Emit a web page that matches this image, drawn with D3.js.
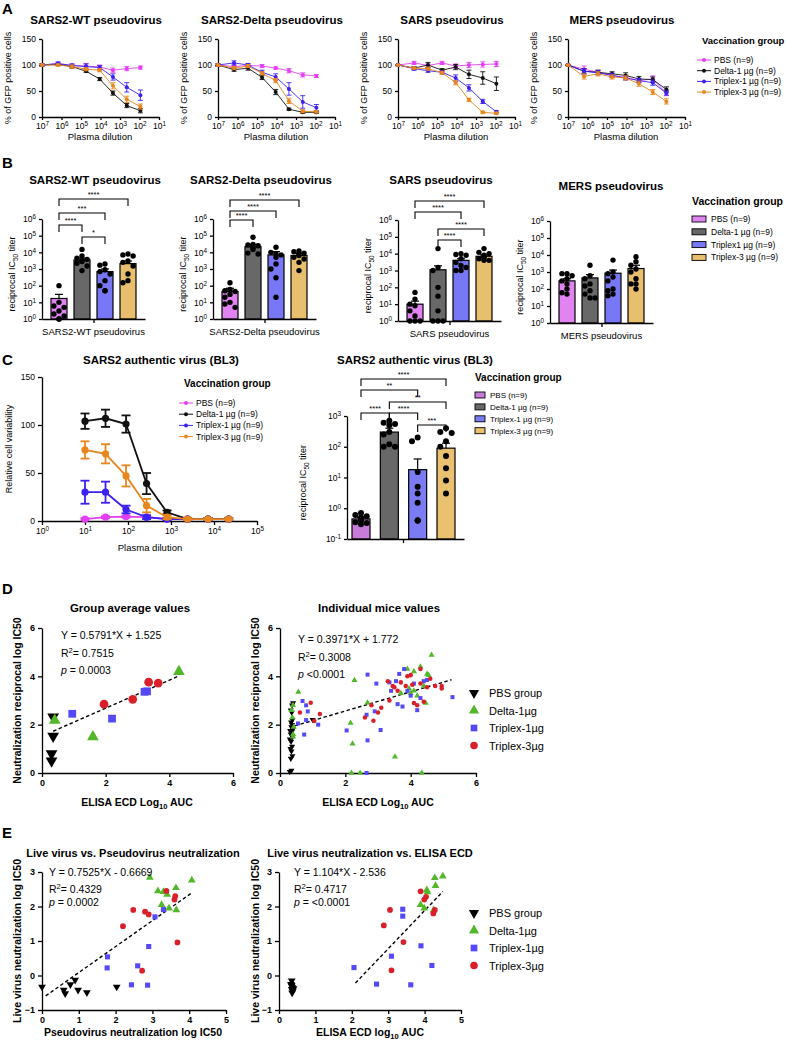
<!DOCTYPE html>
<html>
<head>
<meta charset="utf-8">
<script src="https://cdn.jsdelivr.net/npm/d3@7"></script>
<style>
  body { margin: 0; background: #fff; }
</style>
</head>
<body>
<main></main>
<script>
// ---------- data ----------
var groupsLine = ["PBS (n=9)", "Delta-1 µg (n=9)", "Triplex-1 µg (n=9)", "Triplex-3 µg  (n=9)"];
var groupsBarB = ["PBS (n=9)", "Delta-1 µg (n=9)", "Triplex1 µg (n=9)", "Triplex-3 µg (n=9)"];
var groupsBarC = ["PBS (n=9)", "Delta-1 µg (n=9)", "Triplex-1 µg (n=9)", "Triplex-3 µg (n=9)"];
var groupsScatter = ["PBS group", "Delta-1µg", "Triplex-1µg", "Triplex-3µg"];

var lineColors = ["#e23ff2", "#111111", "#3b22f0", "#e8861e"];
var barColorsB = ["#e283f2", "#686868", "#7878f6", "#e8bf6e"];
var barColorsC = ["#c67cd8", "#686868", "#7b7bf4", "#e9c170"];
var scatterColors = ["#000000", "#52b82a", "#5548f5", "#d9202a"];

// panel A: pseudovirus neutralisation curves
var dilutionA = [1e7, 1.5e6, 2.9e5, 5.5e4, 1.1e4, 2.3e3, 4.5e2, 9e1];
var decadeTicksA = [1e7, 1e6, 1e5, 1e4, 1e3, 1e2, 1e1];
var pctTicks = [0, 50, 100, 150];

var wtMean = [[100, 102, 99, 98, 96, 90, 93, 95], [100, 101, 97, 88, 73, 46, 22, 12],
              [100, 103, 99, 97, 95, 77, 57, 42], [100, 100, 97, 92, 90, 60, 34, 20]];
var wtErr = [[2, 3, 3, 5, 4, 4, 4, 3], [2, 2, 3, 2, 3, 4, 4, 4],
             [2, 3, 3, 5, 4, 6, 9, 10], [2, 2, 3, 3, 3, 6, 6, 5]];
var deltaMean = [[100, 97, 99, 98, 94, 89, 81, 79], [100, 91, 94, 76, 48, 15, 9, 9],
                 [100, 104, 100, 86, 77, 54, 29, 18], [100, 94, 98, 84, 70, 31, 11, 10]];
var deltaErr = [[2, 3, 3, 3, 2, 4, 4, 3], [2, 3, 4, 4, 5, 2, 2, 2],
                [2, 4, 3, 4, 6, 12, 12, 6], [2, 3, 3, 3, 4, 5, 3, 2]];
var sarsMean = [[100, 104, 99, 104, 98, 100, 101, 102], [100, 94, 100, 90, 96, 82, 75, 64],
                [100, 93, 89, 86, 75, 56, 30, 10], [100, 94, 93, 85, 66, 33, 9, 7]];
var sarsErr = [[1, 3, 3, 3, 4, 5, 5, 5], [1, 3, 5, 3, 5, 8, 12, 13],
               [1, 3, 3, 3, 6, 6, 4, 2], [1, 2, 3, 3, 4, 3, 2, 2]];
var mersMean = [[100, 92, 86, 80, 76, 70, 73, 46], [100, 88, 86, 83, 80, 73, 72, 53],
                [100, 88, 85, 80, 75, 70, 66, 46], [100, 78, 83, 77, 75, 64, 48, 30]];
var mersErr = [[1, 6, 4, 4, 4, 4, 6, 5], [1, 5, 4, 4, 5, 5, 5, 5],
               [1, 5, 4, 4, 4, 4, 5, 4], [1, 5, 4, 4, 4, 5, 5, 5]];

// panel B: reciprocal IC50 titers
var logTicksB = [1, 10, 100, 1e3, 1e4, 1e5, 1e6];
var wtIC = [17, 3500, 700, 2100];
var wtICTop = [30, 4500, 1000, 3000];
var wtPts = [[100, 10, 6, 5, 3, 2, 1, 1, 1.5], [15000, 6000, 4500, 3800, 3200, 2800, 2200, 1500, 800],
             [2000, 1700, 900, 700, 500, 200, 100, 50, 50], [8000, 7000, 6000, 3000, 2500, 1500, 500, 200, 150]];
var wtSig = [[0, 3, "****"], [0, 2, "***"], [0, 1, "****"], [1, 2, "*"]];

var deltaIC = [45, 22000, 7000, 6500];
var deltaICTop = [70, 30000, 11000, 8500];
var deltaPts = [[150, 60, 50, 45, 30, 20, 10, 8, 5], [80000, 30000, 28000, 25000, 22000, 18000, 15000, 9000, 8000],
                [20000, 10000, 8000, 7000, 5000, 2000, 1000, 300, 20], [12000, 11000, 9000, 8000, 6500, 5000, 4000, 2500, 800]];
var deltaSig = [[0, 3, "****"], [0, 2, "****"], [0, 1, "****"]];

var sarsIC = [10, 1100, 4000, 7000];
var sarsICTop = [15, 1900, 5000, 8500];
var sarsPts = [[50, 20, 10, 8, 4, 2, 1, 1, 1], [20000, 1500, 1000, 100, 30, 4, 1, 1, 1],
               [10000, 9000, 8000, 5000, 3000, 2000, 1500, 1000, 1000], [20000, 12000, 10000, 8000, 6000, 6000, 5000, 4000, 4000]];
var sarsSig = [[0, 3, "****"], [0, 2, "****"], [1, 3, "****"], [1, 2, "****"]];

var mersIC = [300, 450, 850, 1600];
var mersICTop = [400, 700, 1300, 2500];
var mersPts = [[800, 800, 600, 400, 300, 200, 100, 60, 50], [2500, 600, 400, 200, 150, 80, 50, 30, 30],
               [5000, 1000, 800, 500, 300, 100, 80, 50, 40], [8000, 4000, 2500, 1500, 1000, 400, 200, 100, 200]];
var mersSig = [];

// panel C: authentic virus
var dilutionC = [10, 30, 90, 270, 810, 2430, 7290, 21870];
var decadeTicksC = [1, 10, 100, 1e3, 1e4, 1e5];
var liveMean = [[2, 4, 4.5, 4, 2, 2, 2, 2], [104, 107, 101, 39, 9, 2, 2, 2],
                [30, 30, 12, 4, 2, 2, 2, 2], [74, 70, 47, 16, 4, 2, 2, 2]];
var liveErr = [[1, 1, 1, 1, 1, 1, 1, 1], [8, 9, 9, 11, 2, 1, 1, 1],
               [12, 11, 4, 2, 1, 1, 1, 1], [9, 10, 11, 7, 2, 1, 1, 1]];
var logTicksC = [0.1, 1, 10, 100, 1000];
var liveIC = [0.45, 300, 18, 90];
var liveICTop = [0.5, 400, 40, 130];
var livePts = [[0.7, 0.6, 0.55, 0.5, 0.45, 0.4, 0.35, 0.33, 0.3], [700, 600, 550, 500, 300, 250, 120, 100, 100],
               [200, 150, 15, 5, 3, 1.5, 0.4, 0.4, 0.4], [400, 300, 280, 150, 100, 50, 20, 8, 3]];
var liveSig = [[0, 3, "****"], [0, 2, "**"], [1, 3, "**"], [0, 1, "****"], [1, 2, "****"], [2, 3, "***"]];

// panel D: correlations with ELISA
var dAvg = [
  [[0.3, 0.5], [0.3, 0.8], [0.35, 1.52], [0.35, 2.32]],
  [[0.4, 2.18], [1.6, 1.5], [4.3, 4.2]],
  [[0.95, 2.45], [2.2, 2.25], [3.22, 3.36], [3.3, 3.38]],
  [[1.95, 2.85], [2.85, 3.05], [3.35, 3.76], [3.65, 3.72]]
];
var dInd = [
  [[0.3, 0.05], [0.35, 0.1], [0.33, 0.6], [0.38, 0.7], [0.35, 0.9], [0.32, 1.0], [0.37, 1.1], [0.34, 1.3], [0.3, 1.4],
   [0.38, 1.5], [0.33, 1.6], [0.36, 1.7], [0.31, 1.75], [0.39, 1.8], [0.35, 1.9], [0.37, 2.0], [0.34, 2.1], [0.38, 2.2],
   [0.36, 2.5], [0.33, 2.6], [0.37, 2.8], [0.4, 2.9], [1.0, 2.2]],
  [[0.35, 2.6], [0.4, 1.5], [0.42, 1.9], [0.38, 2.3], [0.56, 3.35], [0.4, 2.8], [0.4, 1.6], [2.19, 0], [2.45, 0],
   [2.16, 2.07], [2.22, 1.21], [2.28, 3.84], [2.68, 2.91], [3.52, 0.67], [4.34, 0], [3.9, 4.3], [4.1, 4.2], [4.3, 4.4],
   [4.64, 4.88], [4.1, 3.4], [4.2, 3.2], [4.4, 3.6], [3.95, 3.5], [4.5, 4.1], [4.46, 2.9], [4.0, 3.3], [4.55, 4.05], [3.7, 3.3]],
  [[0.69, 2.98], [0.8, 2.8], [0.85, 2.55], [0.8, 2.19], [0.55, 2.05], [0.74, 1.59], [1.17, 2.0], [2.68, 4.07], [2.95, 3.7],
   [2.04, 1.76], [2.65, 2.41], [2.68, 1.35], [2.9, 2.55], [3.08, 1.78], [2.65, 0], [3.35, 3.75], [3.4, 3.4], [3.55, 3.8],
   [3.6, 2.85], [3.75, 2.75], [3.8, 4.3], [3.9, 3.4], [4.1, 3.7], [4.2, 2.6], [4.3, 3.1], [4.4, 3.8], [5.28, 3.14],
   [3.65, 4.1], [4.0, 3.2], [4.5, 3.85]],
  [[0.61, 2.5], [0.94, 2.91], [1.05, 2.15], [1.22, 2.44], [2.6, 2.3], [2.86, 2.16], [3.0, 2.5], [3.1, 2.7], [2.8, 2.8],
   [3.3, 3.8], [3.45, 3.6], [3.5, 3.55], [3.6, 3.4], [3.7, 3.75], [3.85, 3.6], [3.9, 4.0], [4.0, 4.05], [4.1, 2.9],
   [4.2, 2.8], [4.3, 3.7], [4.5, 3.55], [4.6, 3.9], [4.75, 3.6], [4.95, 3.5], [4.3, 4.3], [4.05, 3.65], [3.35, 3.0],
   [4.4, 2.95], [4.95, 3.6]]
];

// panel E: live virus correlations
var eLivePseudo = [
  [[0, -0.33], [0.59, -0.42], [0.63, -0.52], [0.77, -0.26], [0.9, -0.13], [0.98, -0.42], [1.22, -0.49], [2.03, -0.33]],
  [[2.93, 2.84], [3.15, 2.45], [3.3, 2.43], [3.4, 2.35], [3.25, 2.05], [3.45, 1.95], [3.65, 1.9], [3.64, 2.54], [4.07, 2.76]],
  [[1.78, 0.54], [1.77, 0.22], [2.6, 0.28], [2.43, -0.27], [2.87, -0.28], [2.9, 0.84], [3.07, 1.7], [3.3, 1.91]],
  [[2.2, 1.43], [2.48, 1.9], [2.8, 1.85], [2.9, 1.77], [2.72, 0.14], [3.68, 0.96], [3.38, 2.45], [3.6, 2.2], [3.62, 2.3]]
];
var eLiveElisa = [
  [[0.35, -0.15], [0.33, -0.25], [0.35, -0.3], [0.37, -0.35], [0.35, -0.4], [0.38, -0.45], [0.36, -0.5], [0.34, -0.28], [0.4, -0.38]],
  [[4.28, 2.83], [4.5, 2.88], [4.3, 2.6], [4.06, 2.48], [4.08, 2.42], [3.89, 2.05], [3.99, 1.95], [4.25, 1.9]],
  [[2.06, 0.23], [2.68, -0.25], [3.09, 0.56], [3.4, 1.92], [3.4, 1.72], [3.9, 0.86], [4.2, 0.29], [3.62, -0.27]],
  [[2.88, 1.45], [3.05, 1.9], [3.42, 0.97], [3.09, 0.15], [3.89, 2.44], [3.99, 2.2], [4.04, 2.28], [4.24, 1.8], [4.28, 1.9]]
];

// ---------- drawing ----------
var F = '"Liberation Sans", Arial, Helvetica, sans-serif';
var svg = d3.select("main").append("svg").attr("width", 786).attr("height", 1042);

function label(g, x, y, fs, parts, o) {
  o = o || {};
  var t = g.append("text").attr("x", x).attr("y", y).attr("font-size", fs)
    .attr("font-family", F).attr("fill", "#000")
    .attr("text-anchor", o.anchor || "start")
    .attr("font-weight", o.bold ? "bold" : "normal");
  if (o.rot) t.attr("transform", "rotate(-90," + x + "," + y + ")");
  if (typeof parts === "string") parts = [[parts]];
  var shift = 0;
  parts.forEach(function(p) {
    var want = p[1] === "sup" ? -0.4 : p[1] === "sub" ? 0.3 : 0;
    var ts = t.append("tspan").text(p[0]);
    if (want !== shift) ts.attr("dy", ((want - shift) * fs) + "px");
    if (p[1] === "sup" || p[1] === "sub") ts.attr("font-size", fs * 0.72);
    if (p[1] === "it") ts.attr("font-style", "italic");
    shift = want;
  });
  return t;
}

function drawAxis(g, axis, tx, ty, fs, bold) {
  var a = g.append("g").attr("transform", "translate(" + tx + "," + ty + ")").call(axis);
  a.attr("font-family", F).attr("font-size", fs).attr("font-weight", bold ? "bold" : null);
  a.select(".domain").attr("stroke", "#000").attr("stroke-width", 1.3);
  a.selectAll(".tick line").attr("stroke", "#000").attr("stroke-width", 1.3);
  a.selectAll(".tick text").attr("fill", "#000");
  return a;
}

function supAxis(a) {
  a.selectAll(".tick text").each(function(d) {
    var t = d3.select(this), e = Math.round(Math.log10(d));
    t.text("10");
    t.append("tspan").attr("dy", "-0.45em").attr("font-size", "0.75em").text(e);
  });
}

function panelLetter(x, y, s) { label(svg, x, y, 15, s, { bold: true }); }

// ----- line chart with error bars -----
function curves(g, x, y, xs, vals, errs, lw, r, cap) {
  vals.forEach(function(v, i) {
    var c = lineColors[i];
    var pts = v.map(function(d, j) { return [x(xs[j]), y(d), y(d + errs[i][j]), y(Math.max(0, d - errs[i][j]))]; });
    g.append("path").attr("d", d3.line()(pts.map(function(p) { return [p[0], p[1]]; })))
      .attr("fill", "none").attr("stroke", c).attr("stroke-width", lw);
    var eb = g.append("g").attr("stroke", c).attr("stroke-width", lw);
    pts.forEach(function(p) {
      eb.append("line").attr("x1", p[0]).attr("x2", p[0]).attr("y1", p[2]).attr("y2", p[3]);
      eb.append("line").attr("x1", p[0] - cap).attr("x2", p[0] + cap).attr("y1", p[2]).attr("y2", p[2]);
      eb.append("line").attr("x1", p[0] - cap).attr("x2", p[0] + cap).attr("y1", p[3]).attr("y2", p[3]);
    });
    g.selectAll(null).data(pts).enter().append("circle")
      .attr("cx", function(p) { return p[0]; }).attr("cy", function(p) { return p[1]; })
      .attr("r", r).attr("fill", c);
  });
}

function pseudoPanel(x0, title, vals, errs) {
  var g = svg.append("g");
  var x = d3.scaleLog().domain([1e7, 10]).range([x0, x0 + 117]);
  var y = d3.scaleLinear().domain([0, 150]).range([117, 39]);
  label(g, x0 + 54, 24, 11.5, title, { bold: true, anchor: "middle" });
  supAxis(drawAxis(g, d3.axisBottom(x).tickValues(decadeTicksA).tickSize(3).tickSizeOuter(0), 0, 117, 8.5));
  drawAxis(g, d3.axisLeft(y).tickValues(pctTicks).tickSize(3).tickSizeOuter(0), x0, 0, 8.5);
  label(g, x0 - 31, 78, 9, "% of GFP positive cells", { rot: true, anchor: "middle" });
  label(g, x0 + 58, 140, 9.5, "Plasma dilution", { anchor: "middle" });
  curves(g, x, y, dilutionA, vals, errs, 0.9, 2, 2.5);
}

function lineLegend(x, y, titleSize, gap, fs, names) {
  label(svg, x, y, titleSize, "Vaccination group", { bold: true });
  names.forEach(function(n, i) {
    var cy = y + 16 + i * gap;
    svg.append("line").attr("x1", x - 5).attr("x2", x + 9).attr("y1", cy).attr("y2", cy)
      .attr("stroke", lineColors[i]).attr("stroke-width", 1);
    svg.append("circle").attr("cx", x + 2).attr("cy", cy).attr("r", 2).attr("fill", lineColors[i]);
    label(svg, x + 12, cy + 3, fs, n);
  });
}

function swatchLegend(x, y, titleSize, gap, fs, names, colors, sw) {
  label(svg, x, y, titleSize, "Vaccination group", { bold: true });
  names.forEach(function(n, i) {
    var cy = y + 14 + i * gap;
    svg.append("rect").attr("x", x).attr("y", cy - 3).attr("width", sw).attr("height", 6)
      .attr("fill", colors[i]).attr("stroke", "#000").attr("stroke-width", 0.9);
    label(svg, x + sw + 5, cy + 3, fs, n);
  });
}

// ----- bar chart with dots and brackets -----
function barPanel(o) {
  var g = svg.append("g");
  var y = d3.scaleLog().domain(o.dom).range([o.yb, o.yt]);
  var x = d3.scalePoint().domain(d3.range(4)).range([o.ax + o.c0, o.ax + o.c1]);
  var bw = o.bw;
  if (o.title) label(g, o.titleX, o.titleY, 11.5, o.title, { bold: true, anchor: "middle" });
  o.means.forEach(function(m, i) {
    g.append("rect").attr("x", x(i) - bw / 2).attr("y", y(m)).attr("width", bw).attr("height", o.yb - y(m))
      .attr("fill", o.colors[i]).attr("stroke", "#000").attr("stroke-width", 1.2);
    g.append("line").attr("x1", x(i)).attr("x2", x(i)).attr("y1", y(m)).attr("y2", y(o.tops[i]))
      .attr("stroke", "#000").attr("stroke-width", 1.2);
    g.append("line").attr("x1", x(i) - 4).attr("x2", x(i) + 4).attr("y1", y(o.tops[i])).attr("y2", y(o.tops[i]))
      .attr("stroke", "#000").attr("stroke-width", 1.2);
  });
  // dots, spread sideways when they would overlap
  o.pts.forEach(function(arr, i) {
    var placed = [], d = o.r * 2 - 0.3;
    arr.forEach(function(v) {
      var py = y(Math.max(v, o.dom[0]));
      var offs = [0, -d, d, -2 * d, 2 * d, -3 * d, 3 * d];
      var px = x(i);
      for (var k = 0; k < offs.length; k++) {
        var cx = x(i) + offs[k];
        if (Math.abs(offs[k]) > bw / 2 + 1) continue;
        var ok = placed.every(function(p) { return Math.hypot(p[0] - cx, p[1] - py) >= d; });
        if (ok) { px = cx; break; }
      }
      placed.push([px, py]);
      g.append("circle").attr("cx", px).attr("cy", py).attr("r", o.r).attr("fill", "#000");
    });
  });
  var ya = drawAxis(g, d3.axisLeft(y).tickValues(o.ticks).tickSize(3).tickSizeOuter(0), o.ax, 0, 8.5);
  supAxis(ya);
  var xs = d3.scaleLinear().domain([0, 1]).range([o.ax, o.ax + o.xend]);
  drawAxis(g, d3.axisBottom(xs).tickValues([o.midTick]).tickSize(4).tickSizeOuter(0).tickFormat(""), 0, o.yb, 8.5);
  if (o.xlab) label(g, o.ax + o.xend * o.midTick, o.yb + 16, 9.5, o.xlab, { anchor: "middle" });
  label(g, o.ax - o.ylabOff, (o.yb + o.yt) / 2 + 5, 9, [["reciprocal IC"], ["50", "sub"], [" titer"]], { rot: true, anchor: "middle" });
  o.sig.forEach(function(s, k) {
    var yy = o.sigY[k], x1 = x(s[0]), x2 = x(s[1]);
    g.append("path").attr("d", "M" + x1 + "," + (yy + 7) + "V" + yy + "H" + x2 + "V" + (yy + 7))
      .attr("fill", "none").attr("stroke", "#000").attr("stroke-width", 1.1);
    label(g, (x1 + x2) / 2, yy - 2.5, 7.5, s[2], { anchor: "middle" });
  });
}

// ----- scatter with regression -----
function symbolPath(i, size) {
  var types = [d3.symbolTriangle, d3.symbolTriangle, d3.symbolSquare, d3.symbolCircle];
  return d3.symbol().type(types[i]).size(size)();
}

function scatterPanel(o) {
  var g = svg.append("g");
  var x = d3.scaleLinear().domain(o.xd).range(o.xr);
  var y = d3.scaleLinear().domain(o.yd).range(o.yr);
  label(g, o.titleX, o.titleY, o.titleSize || 11.5, o.title, { bold: true, anchor: "middle" });
  drawAxis(g, d3.axisBottom(x).tickValues(o.xt).tickSize(4).tickSizeOuter(0).tickFormat(d3.format("d")), 0, o.yr[0], 9, true);
  drawAxis(g, d3.axisLeft(y).tickValues(o.yt).tickSize(4).tickSizeOuter(0).tickFormat(d3.format("d")), o.xr[0], 0, 9, true);
  var fx = o.fitX;
  g.append("line").attr("x1", x(fx[0])).attr("x2", x(fx[1]))
    .attr("y1", y(o.fit[0] * fx[0] + o.fit[1])).attr("y2", y(o.fit[0] * fx[1] + o.fit[1]))
    .attr("stroke", "#000").attr("stroke-width", 1.4).attr("stroke-dasharray", "3.5,2.5");
  o.pts.forEach(function(arr, i) {
    g.selectAll(null).data(arr).enter().append("path")
      .attr("d", symbolPath(i, o.size))
      .attr("transform", function(p) { return "translate(" + x(p[0]) + "," + y(p[1]) + ")" + (i === 0 ? " rotate(180)" : ""); })
      .attr("fill", scatterColors[i]);
  });
  o.eq.forEach(function(parts, k) { label(g, o.eqX, o.eqY[k], 10.5, parts); });
  label(g, o.ylabX, (o.yr[0] + o.yr[1]) / 2, 10.5, o.ylab, { bold: true, rot: true, anchor: "middle" });
  label(g, o.xlabX, o.xlabY, 10.5, o.xlab, { bold: true, anchor: "middle" });
}

function scatterLegend(y) {
  groupsScatter.forEach(function(n, i) {
    var cy = y + i * 17.5;
    svg.append("path").attr("d", symbolPath(i, 45))
      .attr("transform", "translate(474," + cy + ")" + (i === 0 ? " rotate(180)" : ""))
      .attr("fill", scatterColors[i]);
    label(svg, 489, cy + 4, 11, n);
  });
}

// ===== Panel A =====
panelLetter(2, 14, "A");
pseudoPanel(42, "SARS2-WT pseudovirus", wtMean, wtErr);
pseudoPanel(218, "SARS2-Delta pseudovirus", deltaMean, deltaErr);
pseudoPanel(398, "SARS pseudovirus", sarsMean, sarsErr);
pseudoPanel(568, "MERS pseudovirus", mersMean, mersErr);
lineLegend(702, 44, 9.5, 10.7, 8.5, groupsLine);

// ===== Panel B =====
panelLetter(2, 168, "B");
var bCommon = { dom: [1, 1e6], ticks: logTicksB, c0: 17, c1: 86, bw: 16, r: 2.7, xend: 103, midTick: 0.5, colors: barColorsB, ylabOff: 27 };
barPanel(Object.assign({}, bCommon, { ax: 42, yb: 319, yt: 219, title: "SARS2-WT pseudovirus", titleX: 95, titleY: 184,
  means: wtIC, tops: wtICTop, pts: wtPts, sig: wtSig, sigY: [199, 213, 225, 237], xlab: "SARS2-WT pseudovirus" }));
barPanel(Object.assign({}, bCommon, { ax: 213, yb: 319, yt: 219, title: "SARS2-Delta pseudovirus", titleX: 261, titleY: 184,
  means: deltaIC, tops: deltaICTop, pts: deltaPts, sig: deltaSig, sigY: [200, 211, 220], xlab: "SARS2-Delta pseudovirus" }));
barPanel(Object.assign({}, bCommon, { ax: 398, yb: 321, yt: 220, title: "SARS pseudovirus", titleX: 441, titleY: 184,
  means: sarsIC, tops: sarsICTop, pts: sarsPts, sig: sarsSig, sigY: [201, 212, 229, 240], xlab: "SARS pseudovirus" }));
barPanel(Object.assign({}, bCommon, { ax: 550, yb: 323, yt: 221, title: "MERS pseudovirus", titleX: 611, titleY: 190,
  means: mersIC, tops: mersICTop, pts: mersPts, sig: mersSig, sigY: [], xlab: "MERS pseudovirus" }));
swatchLegend(692, 205, 10.5, 12.8, 8.5, groupsBarB, barColorsB, 14);

// ===== Panel C =====
panelLetter(2, 365, "C");
(function() {
  var g = svg.append("g");
  var x = d3.scaleLog().domain([1, 1e5]).range([42, 257]);
  var y = d3.scaleLinear().domain([0, 150]).range([521, 377]);
  label(g, 161, 364, 11.5, "SARS2 authentic virus (BL3)", { bold: true, anchor: "middle" });
  supAxis(drawAxis(g, d3.axisBottom(x).tickValues(decadeTicksC).tickSize(4).tickSizeOuter(0), 0, 521, 8.5));
  drawAxis(g, d3.axisLeft(y).tickValues(pctTicks).tickSize(4).tickSizeOuter(0), 42, 0, 8.5);
  label(g, 12, 449, 9, "Relative cell variability", { rot: true, anchor: "middle" });
  label(g, 150, 551, 9.5, "Plasma dilution", { anchor: "middle" });
  curves(g, x, y, dilutionC, liveMean, liveErr, 1.8, 3.6, 4.5);
})();
lineLegend(184, 387, 10, 11.2, 8.5, groupsLine);
barPanel({ dom: [0.1, 1000], ticks: logTicksC, ax: 347, yb: 539, yt: 416, c0: 14, c1: 99, bw: 18, r: 3,
  xend: 117, midTick: 56 / 117, colors: barColorsC, ylabOff: 41, title: "SARS2 authentic virus (BL3)", titleX: 415, titleY: 364,
  means: liveIC, tops: liveICTop, pts: livePts, sig: liveSig, sigY: [379, 390, 402, 413, 413, 425], xlab: null });
swatchLegend(475, 381, 10, 11.9, 8, groupsBarC, barColorsC, 10);

// ===== Panel D =====
panelLetter(2, 594, "D");
scatterPanel({ xd: [0, 6], xr: [42, 233], yd: [0, 6], yr: [773, 628], xt: [0, 2, 4, 6], yt: [0, 2, 4, 6],
  title: "Group average values", titleX: 130, titleY: 612, pts: dAvg, size: 60,
  fit: [0.5791, 1.525], fitX: [0.35, 4.3],
  eq: [[["Y = 0.5791*X + 1.525"]], [["R"], ["2", "sup"], ["= 0.7515"]], [["p", "it"], [" = 0.0003"]]],
  eqX: 61, eqY: [639, 657, 674],
  ylab: "Neutralization reciprocal log IC50", ylabX: 21,
  xlab: [["ELISA ECD Log"], ["10", "sub"], [" AUC"]], xlabX: 137, xlabY: 806 });
scatterPanel({ xd: [0, 6], xr: [280, 476], yd: [0, 6], yr: [773, 628], xt: [0, 2, 4, 6], yt: [0, 2, 4, 6],
  title: "Individual mice values", titleX: 379, titleY: 612, pts: dInd, size: 16,
  fit: [0.3971, 1.772], fitX: [0.45, 5.25],
  eq: [[["Y = 0.3971*X + 1.772"]], [["R"], ["2", "sup"], ["= 0.3008"]], [["p", "it"], [" <0.0001"]]],
  eqX: 298, eqY: [643, 661, 678],
  ylab: "Neutralization reciprocal log IC50", ylabX: 259,
  xlab: [["ELISA ECD Log"], ["10", "sub"], [" AUC"]], xlabX: 378, xlabY: 806 });
scatterLegend(693);

// ===== Panel E =====
panelLetter(2, 838, "E");
scatterPanel({ xd: [0, 5], xr: [42, 226], yd: [-1, 3], yr: [1010, 872], xt: [0, 1, 2, 3, 4, 5], yt: [-1, 0, 1, 2, 3],
  title: "Live virus vs. Pseudovirus neutralization", titleX: 133, titleY: 857, titleSize: 11, pts: eLivePseudo, size: 26,
  fit: [0.7525, -0.6669], fitX: [0.1, 4.05],
  eq: [[["Y = 0.7525*X - 0.6669"]], [["R"], ["2", "sup"], ["= 0.4329"]], [["p", "it"], [" = 0.0002"]]],
  eqX: 49, eqY: [876, 893, 906],
  ylab: "Live virus neutralization log IC50", ylabX: 21,
  xlab: "Pseudovirus neutralization log IC50", xlabX: 133, xlabY: 1036 });
scatterPanel({ xd: [0, 5], xr: [279, 461], yd: [-1, 3], yr: [1010, 872], xt: [0, 1, 2, 3, 4, 5], yt: [-1, 0, 1, 2, 3],
  title: "Live virus neutralization vs. ELISA ECD", titleX: 370, titleY: 857, titleSize: 11, pts: eLiveElisa, size: 26,
  fit: [1.104, -2.536], fitX: [2.1, 4.5],
  eq: [[["Y = 1.104*X - 2.536"]], [["R"], ["2", "sup"], ["= 0.4717"]], [["p", "it"], [" = <0.0001"]]],
  eqX: 294, eqY: [876, 893, 906],
  ylab: "Live virus neutralization log IC50", ylabX: 259,
  xlab: [["ELISA ECD log"], ["10", "sub"], [" AUC"]], xlabX: 370, xlabY: 1036 });
scatterLegend(913);
</script>
</body>
</html>
